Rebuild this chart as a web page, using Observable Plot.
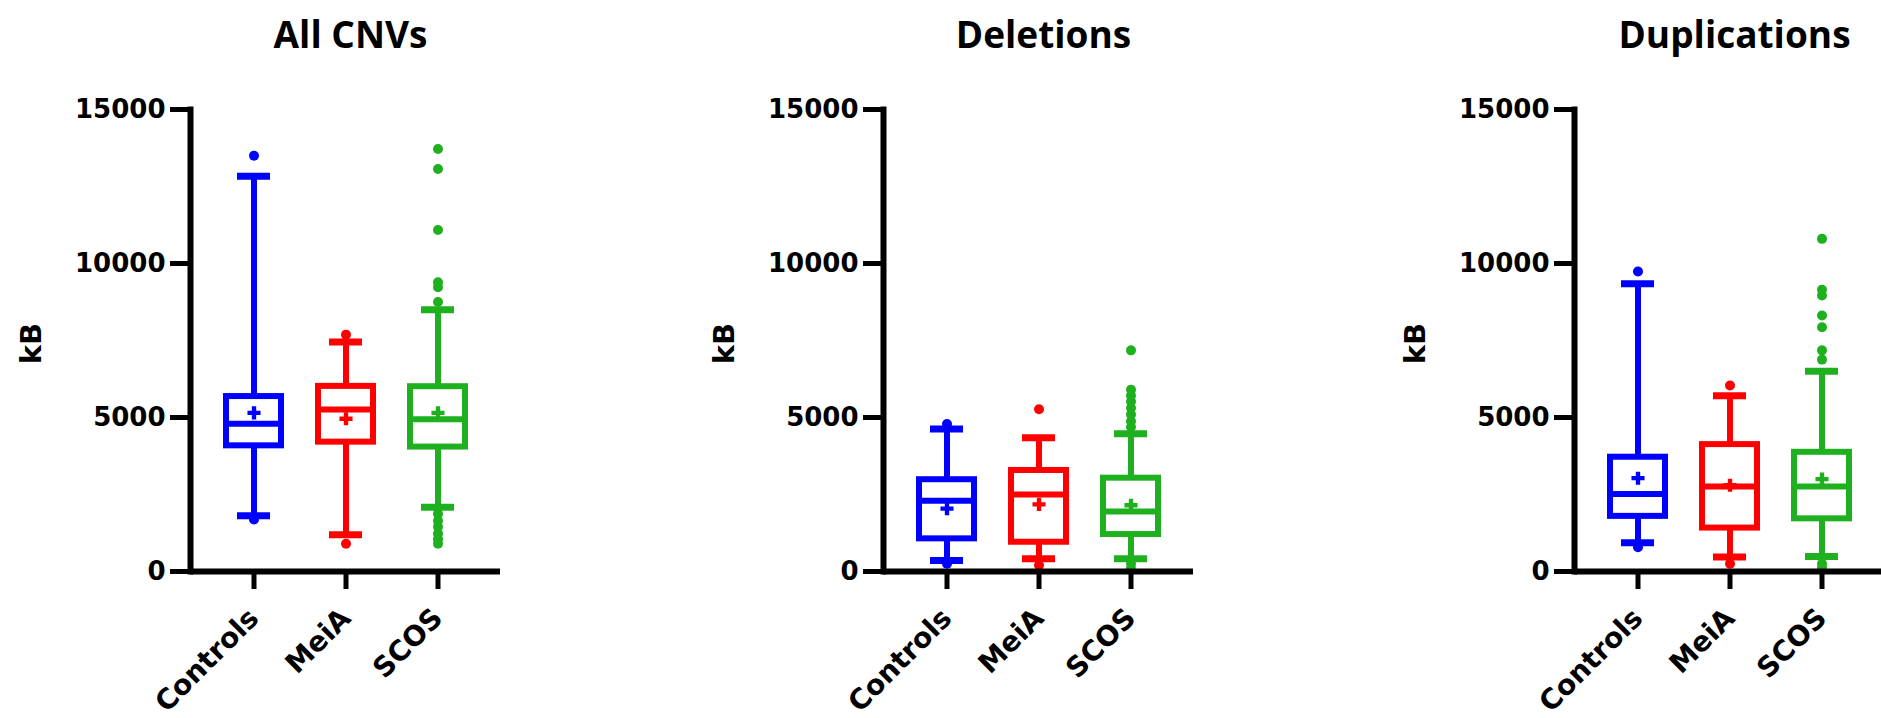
<!DOCTYPE html>
<html>
<head>
<meta charset="utf-8">
<script src="https://cdn.jsdelivr.net/npm/d3@7"></script>
<script src="https://cdn.jsdelivr.net/npm/@observablehq/plot@0.6"></script>
<style>
  html, body { margin: 0; padding: 0; background: #fff; }
  #wrap { position: relative; width: 1881px; height: 718px; overflow: hidden; background: #fff; }
  #wrap svg { position: absolute; top: 0; }
</style>
</head>
<body>
<div id="wrap"></div>
<script>
// ---------- data ----------
const groups = ["Controls", "MeiA", "SCOS"];
const groupColors = ["#0000ff", "#ff0000", "#1fb01f"];
const panelTitles = ["All CNVs", "Deletions", "Duplications"];
const yTicks = [0, 5000, 10000, 15000];
const yLabel = "kB";

// rows = panels (All CNVs, Deletions, Duplications), columns = groups
const q1Values     = [[4080, 4200, 4040], [1060, 950, 1200], [1790, 1410, 1710]];
const medianValues = [[4800, 5260, 4940], [2300, 2500, 1950], [2520, 2760, 2760]];
const q3Values     = [[5680, 6010, 6000], [2980, 3280, 3030], [3710, 4120, 3870]];
const meanValues   = [[5150, 4960, 5150], [2040, 2180, 2150], [3030, 2800, 3000]];
const whiskerLow   = [[1810, 1190, 2090], [360, 410, 410], [930, 470, 490]];
const whiskerHigh  = [[12830, 7450, 8500], [4630, 4340, 4470], [9340, 5710, 6500]];
const outlierValues = [
  [[13500, 1690], [7690, 900], [13720, 13070, 11090, 9390, 9230, 8750, 1870, 1650, 1450, 1230, 1050, 900]],
  [[4790, 250], [5270, 200], [7180, 5900, 5710, 5520, 5310, 5100, 4880, 4690, 250, 100]],
  [[9740, 790], [6040, 250], [10800, 9150, 8960, 8310, 7930, 7180, 6880, 250, 130]]
];

// ---------- layout ----------
const panelLeft = [0, 693, 1384];
const wrap = document.getElementById("wrap");

panelTitles.forEach((title, p) => {
  const rows = groups.map((g, i) => ({
    group: g,
    q1: q1Values[p][i], median: medianValues[p][i], q3: q3Values[p][i],
    mean: meanValues[p][i], lo: whiskerLow[p][i], hi: whiskerHigh[p][i]
  }));
  const outs = groups.flatMap((g, i) => outlierValues[p][i].map(v => ({group: g, v})));

  const chart = Plot.plot({
    width: 520,
    height: 718,
    marginLeft: 190,
    marginRight: 20,
    marginTop: 109,
    marginBottom: 147,
    style: {fontFamily: "DejaVu Sans", fontWeight: "bold", fontSize: "26px", color: "#000", background: "transparent", overflow: "visible"},
    x: {domain: groups, paddingInner: 0.405, paddingOuter: 0.378, axis: null},
    y: {domain: [0, 15000], axis: null},
    color: {domain: groups, range: groupColors},
    marks: [
      Plot.ruleX(rows, {x: "group", y1: "lo", y2: "hi", stroke: "group", strokeWidth: 6}),
      Plot.tickY(rows, {x: "group", y: "lo", stroke: "group", strokeWidth: 7, insetLeft: 11, insetRight: 11}),
      Plot.tickY(rows, {x: "group", y: "hi", stroke: "group", strokeWidth: 7, insetLeft: 11, insetRight: 11}),
      Plot.barY(rows, {x: "group", y1: "q1", y2: "q3", fill: "white", stroke: "group", strokeWidth: 6}),
      Plot.tickY(rows, {x: "group", y: "median", stroke: "group", strokeWidth: 6}),
      Plot.dot(outs, {x: "group", y: "v", r: 5, fill: "group", stroke: null}),
      Plot.dot(rows, {x: "group", y: "mean", symbol: "cross", r: 5.5, fill: "group", stroke: null}),
      Plot.frame({anchor: "left", strokeWidth: 6, stroke: "#000"}),
      Plot.ruleY([0], {strokeWidth: 6, stroke: "#000"}),
      Plot.axisY({ticks: yTicks, tickFormat: d3.format("d"), tickSize: 20, tickPadding: 5, strokeWidth: 5, label: null, fontSize: 26}),
      Plot.axisX({tickSize: 18, tickPadding: 24, tickRotate: -45, strokeWidth: 5, label: null, fontSize: 28}),
      Plot.text([yLabel], {text: d => d, frameAnchor: "left", textAnchor: "middle", lineAnchor: "middle", dx: -159, dy: 3, rotate: -90, fontSize: 29}),
      Plot.text([title], {text: d => d, frameAnchor: "top", textAnchor: "middle", lineAnchor: "middle", dx: 5, dy: -73, fontSize: 37, fontFamily: "Open Sans", fontWeight: "bold"})
    ]
  });
  chart.style.left = panelLeft[p] + "px";
  wrap.appendChild(chart);
});
</script>
</body>
</html>
